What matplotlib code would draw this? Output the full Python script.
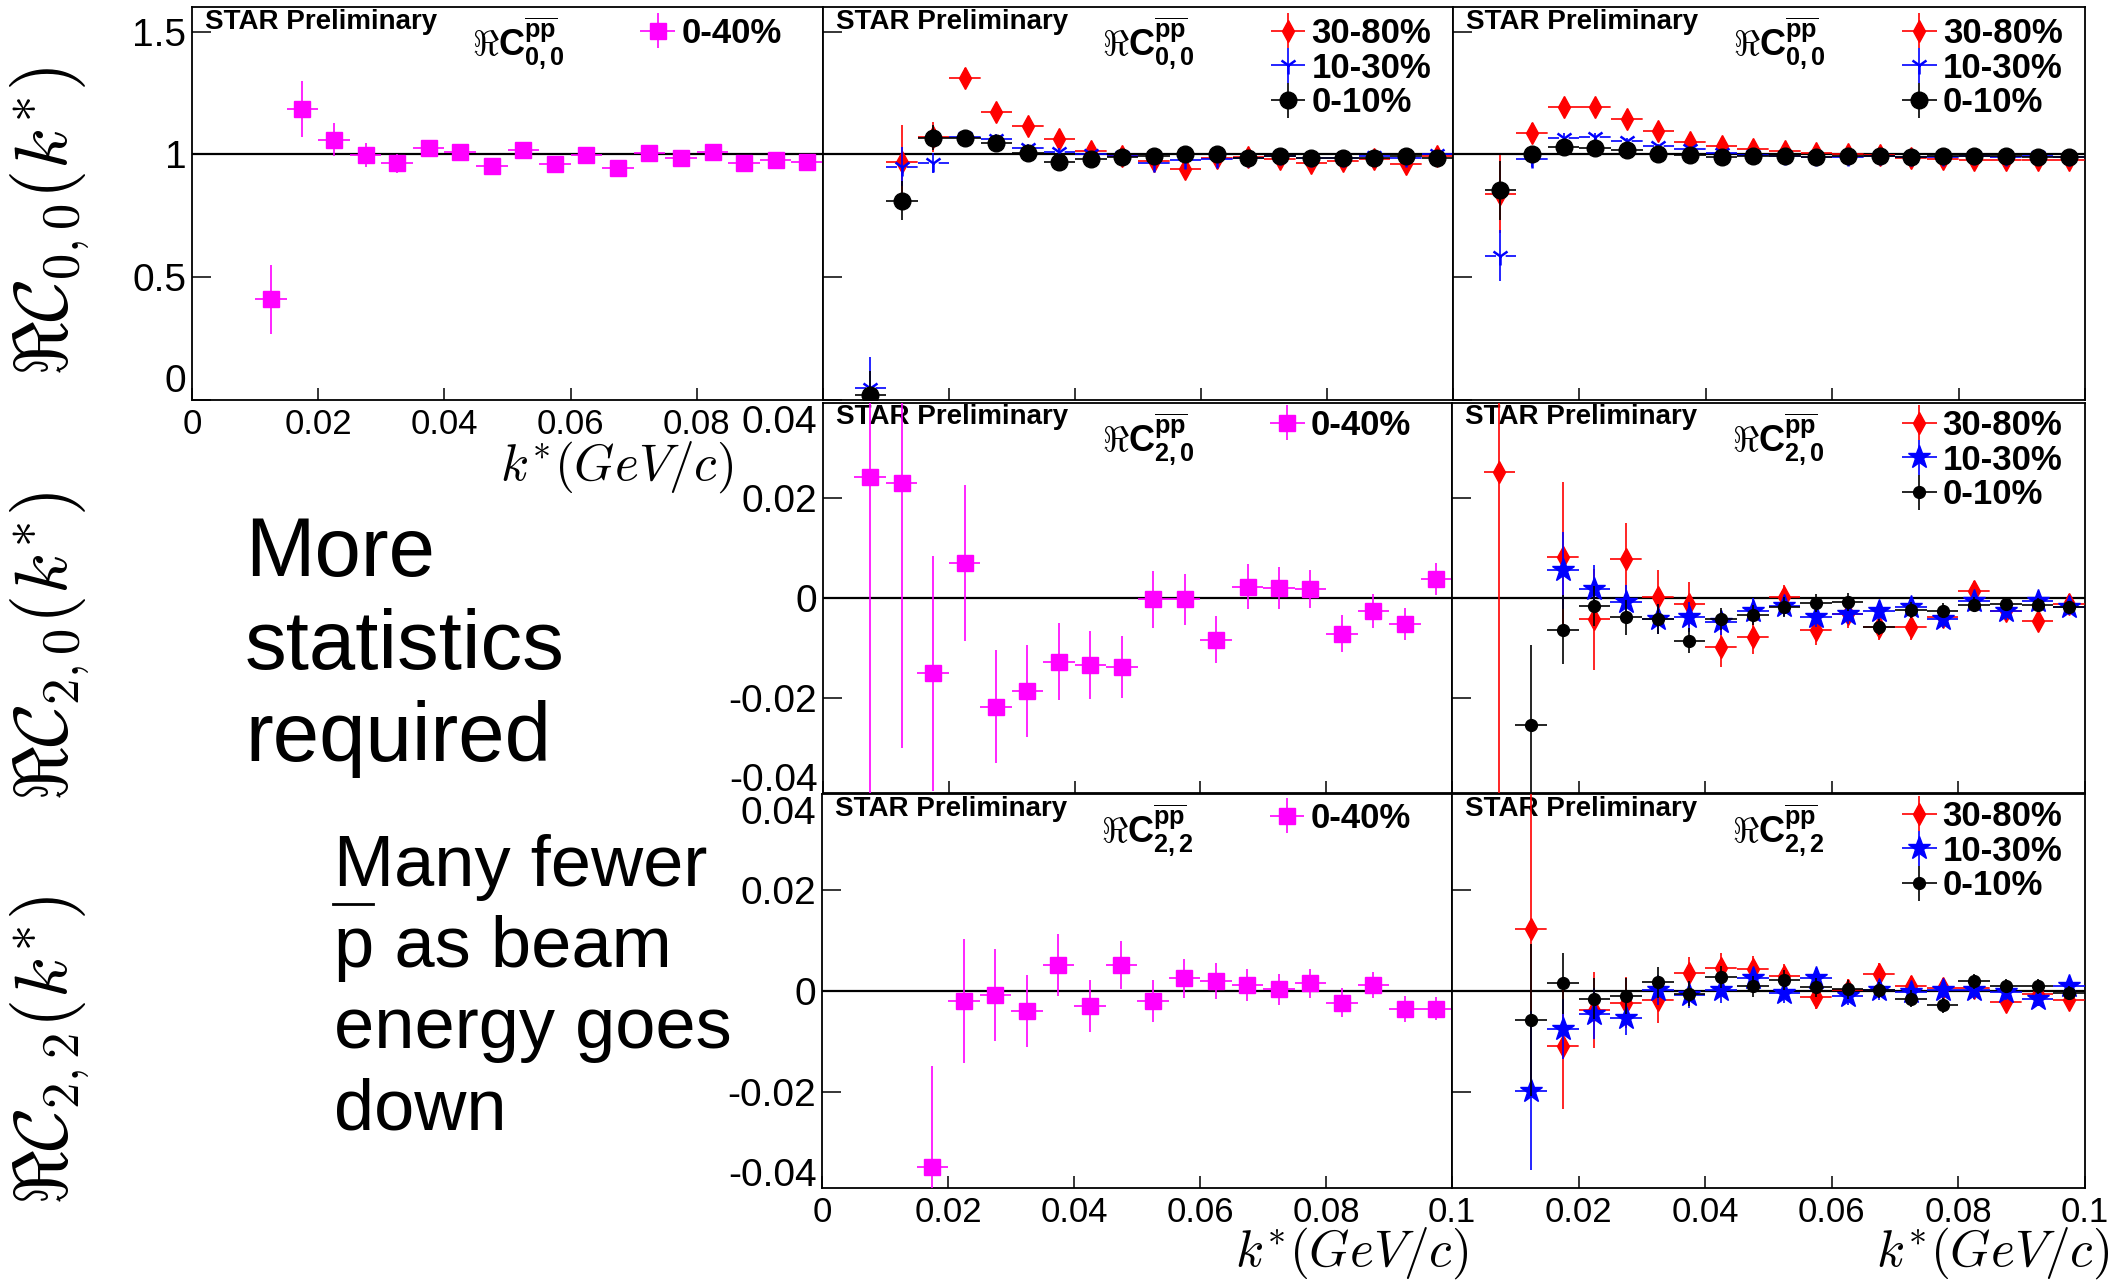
import numpy as np
import matplotlib
matplotlib.use("Agg")
import matplotlib.pyplot as plt
from matplotlib.lines import Line2D

plt.rcParams['font.family'] = ['Liberation Sans', 'DejaVu Sans']
plt.rcParams['mathtext.fontset'] = 'custom'
plt.rcParams['mathtext.rm'] = 'Liberation Sans'
plt.rcParams['mathtext.bf'] = 'Liberation Sans:bold'
plt.rcParams['mathtext.it'] = 'Liberation Sans:italic'
plt.rcParams['lines.scale_dashes'] = False

nan = np.nan

# ---- bin centres (GeV/c) ----
kstar = [0.0075, 0.0125, 0.0175, 0.0225, 0.0275, 0.0325, 0.0375, 0.0425, 0.0475, 0.0525,
         0.0575, 0.0625, 0.0675, 0.0725, 0.0775, 0.0825, 0.0875, 0.0925, 0.0975]
half_bin = 0.0025

# ---- top row: Re C00 ----
c00_a_040 = [nan, 0.41, 1.185, 1.06, 0.997, 0.964, 1.026, 1.009, 0.951, 1.018,
             0.959, 0.999, 0.945, 1.005, 0.984, 1.011, 0.964, 0.977, 0.970]
c00_a_040_err = [nan, 0.14, 0.115, 0.068, 0.05, 0.038, 0.03, 0.03, 0.025, 0.022,
                 0.02, 0.02, 0.018, 0.018, 0.016, 0.016, 0.015, 0.014, 0.014]

c00_b_3080 = [nan, 0.97, 1.07, 1.311, 1.173, 1.115, 1.064, 1.014, 0.993, 0.973,
              0.939, 0.986, 0.99, 0.98, 0.966, 0.973, 0.98, 0.962, 0.993]
c00_b_3080_err = [nan, 0.15, 0.06, 0.04, 0.03, 0.025, 0.02, 0.02, 0.015, 0.015,
                  0.015, 0.014, 0.014, 0.013, 0.013, 0.012, 0.012, 0.012, 0.012]
c00_b_1030 = [0.047, 0.95, 0.964, 1.07, 1.061, 1.027, 1.011, 1.0, 0.993, 0.966,
              0.976, 0.98, 0.986, 0.993, 0.986, 0.986, 0.993, 0.986, 1.0]
c00_b_1030_err = [0.13, 0.08, 0.04, 0.03, 0.02, 0.016, 0.014, 0.012, 0.011, 0.01,
                  0.01, 0.009, 0.009, 0.009, 0.008, 0.008, 0.008, 0.008, 0.008]
c00_b_010 = [0.02, 0.811, 1.068, 1.068, 1.047, 1.007, 0.969, 0.98, 0.989, 0.993,
             1.0, 1.0, 0.986, 0.993, 0.986, 0.984, 0.986, 0.993, 0.986]
c00_b_010_err = [0.1, 0.08, 0.05, 0.03, 0.02, 0.015, 0.012, 0.011, 0.01, 0.009,
                 0.009, 0.008, 0.008, 0.008, 0.007, 0.007, 0.007, 0.007, 0.007]

c00_c_3080 = [0.838, 1.088, 1.192, 1.192, 1.142, 1.097, 1.051, 1.034, 1.02, 1.014,
              1.007, 1.0, 0.997, 0.986, 0.98, 0.976, 0.976, 0.976, 0.976]
c00_c_3080_err = [0.16, 0.04, 0.03, 0.025, 0.02, 0.015, 0.012, 0.01, 0.01, 0.009,
                  0.009, 0.008, 0.008, 0.008, 0.007, 0.007, 0.007, 0.007, 0.007]
c00_c_1030 = [0.588, 0.98, 1.068, 1.07, 1.054, 1.034, 1.02, 1.007, 0.997, 0.993,
              0.99, 0.99, 0.993, 0.99, 0.99, 0.993, 0.99, 0.993, 0.99]
c00_c_1030_err = [0.105, 0.03, 0.02, 0.015, 0.012, 0.01, 0.009, 0.008, 0.007, 0.007,
                  0.006, 0.006, 0.006, 0.006, 0.005, 0.005, 0.005, 0.005, 0.005]
c00_c_010 = [0.854, 1.0, 1.031, 1.024, 1.016, 1.003, 0.997, 0.989, 0.993, 0.993,
             0.99, 0.993, 0.993, 0.99, 0.993, 0.993, 0.993, 0.99, 0.99]
c00_c_010_err = [0.12, 0.025, 0.015, 0.012, 0.01, 0.008, 0.007, 0.006, 0.006, 0.005,
                 0.005, 0.005, 0.005, 0.005, 0.004, 0.004, 0.004, 0.004, 0.004]

# ---- middle row: Re C20 ----
c20_b_040 = [0.0243, 0.0231, -0.015, 0.0071, -0.0217, -0.0185, -0.0127, -0.0134, -0.0137, -0.0002,
             -0.0002, -0.0083, 0.0023, 0.002, 0.0018, -0.0071, -0.0025, -0.0051, 0.0038]
c20_b_040_err = [0.07, 0.053, 0.0235, 0.0156, 0.0113, 0.0092, 0.0077, 0.0068, 0.0062, 0.0057,
                 0.0051, 0.0047, 0.0045, 0.0042, 0.0038, 0.0037, 0.0034, 0.0032, 0.0032]

c20_c_3080 = [0.0252, nan, 0.0083, -0.0042, 0.0078, 0.0002, -0.0011, -0.0097, -0.0077, 0.0002,
              -0.0064, -0.0032, -0.0058, -0.0058, -0.0038, 0.0015, -0.0025, -0.0045, -0.0011]
c20_c_3080_err = [0.07, nan, 0.015, 0.0101, 0.0072, 0.0054, 0.0044, 0.004, 0.0035, 0.0025,
                  0.003, 0.0028, 0.0025, 0.0025, 0.0022, 0.002, 0.002, 0.002, 0.002]
c20_c_1030 = [nan, nan, 0.0056, 0.0019, -0.0007, -0.0042, -0.0038, -0.0048, -0.0025, -0.0015,
              -0.0038, -0.0032, -0.0025, -0.0018, -0.0042, -0.0005, -0.0025, -0.0005, -0.0018]
c20_c_1030_err = [nan, nan, 0.0077, 0.0047, 0.0033, 0.003, 0.003, 0.0025, 0.0025, 0.002,
                  0.002, 0.002, 0.002, 0.0018, 0.0018, 0.0018, 0.0018, 0.0016, 0.0016]
c20_c_010 = [nan, -0.0253, -0.0063, -0.0015, -0.0038, -0.0042, -0.0085, -0.0042, -0.0034, -0.0018,
             -0.001, -0.0007, -0.0057, -0.0023, -0.0025, -0.0013, -0.0011, -0.0013, -0.0018]
c20_c_010_err = [nan, 0.016, 0.0069, 0.004, 0.0035, 0.003, 0.0025, 0.0022, 0.002, 0.002,
                 0.0018, 0.0018, 0.0016, 0.0016, 0.0015, 0.0015, 0.0014, 0.0014, 0.0013]

# ---- bottom row: Re C22 ----
c22_b_040 = [nan, nan, -0.0348, -0.002, -0.0007, -0.0039, 0.0051, -0.003, 0.0051, -0.002,
             0.0025, 0.002, 0.0012, 0.0003, 0.0015, -0.0023, 0.0012, -0.0035, -0.0035]
c22_b_040_err = [nan, nan, 0.02, 0.0123, 0.0091, 0.0071, 0.0061, 0.0051, 0.0047, 0.0042,
                 0.0038, 0.0035, 0.0032, 0.003, 0.0028, 0.0028, 0.0025, 0.0026, 0.0023]

c22_c_3080 = [nan, 0.0122, -0.0109, -0.0038, -0.0023, -0.0018, 0.0035, 0.0045, 0.0043, 0.0029,
              -0.0011, 0.0002, 0.0034, 0.0009, 0.0005, 0.0005, -0.0021, -0.0005, -0.0017]
c22_c_3080_err = [nan, 0.03, 0.0125, 0.0075, 0.005, 0.0045, 0.0033, 0.003, 0.0027, 0.0025,
                  0.0025, 0.0022, 0.0022, 0.002, 0.002, 0.002, 0.002, 0.002, 0.002]
c22_c_1030 = [nan, -0.0197, -0.0075, -0.0045, -0.0053, 0.0002, -0.0008, 0.0002, 0.0025, -0.0003,
              0.0025, -0.001, 0.0001, -0.0001, 0.0001, 0.0001, -0.0001, -0.0015, 0.0009]
c22_c_1030_err = [nan, 0.0158, 0.006, 0.005, 0.0035, 0.003, 0.0025, 0.0025, 0.002, 0.002,
                  0.002, 0.0018, 0.0018, 0.0018, 0.0016, 0.0016, 0.0016, 0.0015, 0.0015]
c22_c_010 = [nan, -0.0057, 0.0015, -0.0015, -0.001, 0.0017, -0.0005, 0.0027, 0.0009, 0.0022,
             0.0007, 0.0003, 0.0002, -0.0015, -0.0028, 0.0019, 0.001, 0.0009, -0.0003]
c22_c_010_err = [nan, 0.015, 0.006, 0.004, 0.0035, 0.003, 0.0025, 0.0022, 0.002, 0.002,
                 0.0018, 0.0018, 0.0016, 0.0016, 0.0015, 0.0015, 0.0014, 0.0014, 0.0013]

xtick_vals = [0, 0.02, 0.04, 0.06, 0.08, 0.1]
xtick_txt = ['0', '0.02', '0.04', '0.06', '0.08', '0.1']

MAG, RED, BLUE, BLK = '#ff00ff', '#ff0000', '#0000ff', '#000000'

W, H = 2114, 1281
fig = plt.figure(figsize=(W / 100, H / 100), dpi=100)


def add_panel(x0, x1, y0, y1):
    return fig.add_axes([x0 / W, 1 - y1 / H, (x1 - x0) / W, (y1 - y0) / H])


def style(ax, ylim, ref):
    ax.set_xlim(0, 0.1)
    ax.set_ylim(*ylim)
    ax.set_xticks(xtick_vals)
    ax.set_xticklabels([])
    ax.tick_params(direction='in', top=False, right=False, width=1.1, labelsize=25)
    ax.tick_params(axis='y', length=13.5, pad=4)
    ax.tick_params(axis='x', length=8.5, pad=6)
    for s in ax.spines.values():
        s.set_linewidth(1.3)
    ax.axhline(ref, color='black', lw=1.6, zorder=1.5)
    ax.text(0.02, 0.963, 'STAR Preliminary', transform=ax.transAxes, fontsize=20,
            fontweight='bold', va='center', ha='left')


def series(ax, y, err, color, marker, ms, dashed=False, mew=1.0, z=3):
    c = ax.errorbar(kstar, y, xerr=half_bin, yerr=err, fmt=marker, color=color, ms=ms,
                    mew=mew, elinewidth=1.2, capsize=0, zorder=z)
    if dashed:
        c[2][0].set_linestyle((0, (7.9, 7.0)))
    return c


def handle(ax, color, marker, ms, mew=1.0):
    return ax.errorbar([nan], [nan], xerr=[0.001], yerr=[0.001], fmt=marker, color=color,
                       ms=ms, mew=mew, elinewidth=1.2, capsize=0)


def legend(ax, handles, labels, anchor):
    ax.legend(handles, labels, loc='upper left', bbox_to_anchor=anchor, frameon=False,
              prop={'family': 'Liberation Sans', 'weight': 'bold', 'size': 25},
              handlelength=0.95, handletextpad=0.2, labelspacing=0.05,
              borderpad=0, borderaxespad=0)


def label(ax, text):
    ax.text(0.443, 0.906, text, transform=ax.transAxes, fontsize=26, va='center', ha='left')


axA = add_panel(192, 823, 7, 400)
axB = add_panel(823, 1453, 7, 400)
axC = add_panel(1453, 2085, 7, 400)
axD = add_panel(823, 1452, 403, 793)
axE = add_panel(1452, 2085, 403, 793)
axF = add_panel(822, 1452, 794, 1188)
axG = add_panel(1452, 2085, 794, 1188)

# ---- top row ----
for ax in (axA, axB, axC):
    style(ax, (0, 1.6), 1.0)
    ax.set_yticks([0, 0.5, 1, 1.5])
    ax.set_yticklabels([])
axA.set_yticklabels(['0', '0.5', '1', '1.5'], fontsize=28)
axA.yaxis.get_major_ticks()[0].label1.set_verticalalignment('bottom')
axA.set_xticklabels(['0', '0.02', '0.04', '0.06', '0.08', ''])

series(axA, c00_a_040, c00_a_040_err, MAG, 's', 12)
legend(axA, [handle(axA, MAG, 's', 12)], ['0-40%'], (0.712, 0.975))
label(axA, r"$\Re\mathbf{C}^{\overline{\mathbf{pp}}}_{\mathbf{0,0}}$")

for ax, r, re, b, be, k, ke in ((axB, c00_b_3080, c00_b_3080_err, c00_b_1030, c00_b_1030_err,
                                 c00_b_010, c00_b_010_err),
                                (axC, c00_c_3080, c00_c_3080_err, c00_c_1030, c00_c_1030_err,
                                 c00_c_010, c00_c_010_err)):
    series(ax, r, re, RED, 'd', 11, dashed=True, z=3)
    series(ax, b, be, BLUE, '1', 13, dashed=True, mew=1.8, z=4)
    series(ax, k, ke, BLK, 'o', 12, z=5)
    hs = [handle(ax, RED, 'd', 11), handle(ax, BLUE, '1', 13, 1.8), handle(ax, BLK, 'o', 12)]
    legend(ax, hs, ['30-80%', '10-30%', '0-10%'], (0.712, 0.975))
    label(ax, r"$\Re\mathbf{C}^{\overline{\mathbf{pp}}}_{\mathbf{0,0}}$")

# ---- middle and bottom rows ----
for ax in (axD, axE, axF, axG):
    style(ax, (-0.039, 0.039), 0.0)
for ax in (axD, axF):
    ax.set_yticks([-0.0358, -0.02, 0, 0.02, 0.0358])
    ax.set_yticklabels(['-0.04', '-0.02', '0', '0.02', '0.04'], fontsize=28)
    t = ax.yaxis.get_major_ticks()
    t[0].tick1line.set_visible(False)
    t[-1].tick1line.set_visible(False)
for ax in (axE, axG):
    ax.set_yticks([-0.02, 0, 0.02])
    ax.set_yticklabels([])
axF.set_xticklabels(xtick_txt)
axG.set_xticklabels([''] + xtick_txt[1:])

series(axD, c20_b_040, c20_b_040_err, MAG, 's', 12)
legend(axD, [handle(axD, MAG, 's', 12)], ['0-40%'], (0.712, 0.985))
label(axD, r"$\Re\mathbf{C}^{\overline{\mathbf{pp}}}_{\mathbf{2,0}}$")

series(axF, c22_b_040, c22_b_040_err, MAG, 's', 12)
legend(axF, [handle(axF, MAG, 's', 12)], ['0-40%'], (0.712, 0.98))
label(axF, r"$\Re\mathbf{C}^{\overline{\mathbf{pp}}}_{\mathbf{2,2}}$")

for ax, r, re, b, be, k, ke, lab in ((axE, c20_c_3080, c20_c_3080_err, c20_c_1030, c20_c_1030_err,
                                      c20_c_010, c20_c_010_err, '2,0'),
                                     (axG, c22_c_3080, c22_c_3080_err, c22_c_1030, c22_c_1030_err,
                                      c22_c_010, c22_c_010_err, '2,2')):
    series(ax, r, re, RED, 'd', 11, dashed=True, z=3)
    series(ax, b, be, BLUE, '*', 17, z=4)
    series(ax, k, ke, BLK, 'o', 8.5, z=5)
    hs = [handle(ax, RED, 'd', 11), handle(ax, BLUE, '*', 17), handle(ax, BLK, 'o', 8.5)]
    legend(ax, hs, ['30-80%', '10-30%', '0-10%'], (0.712, 0.985))
    label(ax, r"$\Re\mathbf{C}^{\overline{\mathbf{pp}}}_{\mathbf{" + lab + r"}}$")

# ---- axis titles ----
for yc, sub in ((221, '0,0'), (646, '2,0'), (1050, '2,2')):
    fig.text(50 / W, 1 - yc / H, r"$\Re\mathcal{C}_{" + sub + r"}(k^{*})$", rotation=90,
             ha='center', va='center', fontsize=54, math_fontfamily='cm')
for xc, yc in ((617, 467), (1352, 1253), (1993, 1253)):
    fig.text(xc / W, 1 - yc / H, r"$k^{*}(GeV/c)$", ha='center', va='center',
             fontsize=37, math_fontfamily='cm')

# ---- annotations ----
fig.text(245 / W, 1 - 515 / H, "More\nstatistics\nrequired", ha='left', va='top',
         fontsize=60, linespacing=1.24)
fig.text(334 / W, 1 - 834 / H, "Many fewer\np as beam\nenergy goes\ndown", ha='left', va='top',
         fontsize=52, linespacing=1.27)
fig.add_artist(Line2D([333 / W, 373 / W], [1 - 904 / H, 1 - 904 / H], transform=fig.transFigure,
                      color='black', lw=2))

fig.savefig('out.png', dpi=100)
